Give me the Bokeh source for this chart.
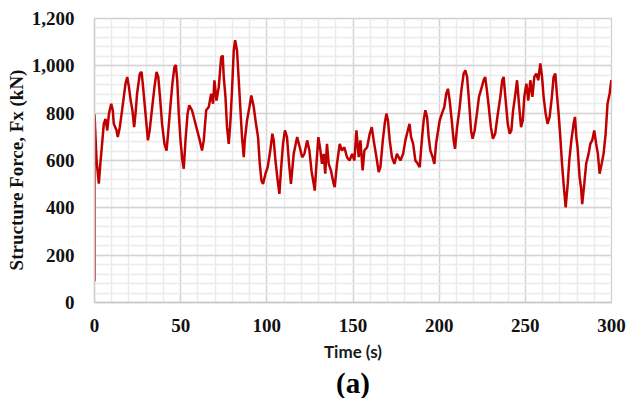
from bokeh.plotting import figure
from bokeh.models import (Range1d, SingleIntervalTicker, NumeralTickFormatter,
                          Title, ColumnDataSource)
from bokeh.embed import file_html
from bokeh.resources import INLINE

# ---- data (time in s, structure force Fx in kN) ----
time_s = [0, 0, 1.2, 2.5, 3.4, 4.4, 5.4, 6.4, 7.4, 8.4, 9.7, 10.6, 11.2, 12.8,
          13.5, 14.7, 16, 17, 18, 19, 20, 21, 22, 23, 23.8, 24.7, 26.3, 27.3,
          28.2, 29.6, 31, 32, 33.5, 34.8, 36, 37, 38, 39.2, 40.6, 41.8, 42.7,
          44, 45.2, 46.4, 47.2, 48, 48.9, 49.9, 51, 51.8, 52.8, 54, 55,
          56.6, 57.6, 59.6, 61.1, 62.4, 63.4, 64.8, 66.3, 67.7, 68.8, 69.6,
          70.8, 72.1, 73.5, 74.4, 75, 76, 76.9, 77.9, 78.9, 79.8, 80.8, 81.6,
          82.7, 83.7, 84.7, 85.6, 86.6, 87.2, 88.5, 89.9, 91, 92.4, 93.7, 94.9,
          95.9, 96.9, 97.8, 99.2, 100.5, 102, 103.2, 104, 105, 106.3, 107.3,
          108.2, 109.4, 110.5, 111.7, 112.9, 114, 115.6, 117.6, 119.1, 120.5,
          121.8, 123.4, 124.7, 125.9, 127.2, 127.8, 128.8, 129.9, 131.1, 132,
          133, 133.9, 134.9, 135.9, 137.2, 138.8, 139.4, 140.7, 142.3, 143.6,
          145, 146.5, 148, 149.5, 150.8, 152, 153.3, 154.3, 155.6, 156.6,
          158.2, 159.7, 160.9, 162, 163.6, 164.9, 165.9, 167.3, 168.4, 169.4,
          170.3, 171.3, 172.6, 174, 175.5, 177.5, 179.1, 180.4, 181.8, 182.8,
          183.7, 184.9, 186.2, 187.6, 188.7, 190.1, 191, 192, 193, 193.9,
          194.9, 196.2, 197.2, 198.2, 199.1, 200.3, 201.6, 203, 204.1, 205.1,
          206.1, 207.3, 208.4, 209.2, 210.4, 211.7, 212.9, 214.2, 215.2, 216.2,
          217.3, 218.5, 219.4, 220.6, 221.9, 223.1, 224.2, 225.8, 226.7, 227.7,
          228.8, 230, 231.2, 232.5, 233.9, 235.5, 236.6, 237.4, 238.4, 239.8,
          240.9, 241.9, 242.9, 244, 245.2, 246.3, 247.5, 248.5, 249.4, 250.6,
          251.7, 252.9, 254.1, 255.2, 256.4, 257.5, 258.7, 259.7, 260.6, 261.8,
          262.9, 264.1, 265.4, 266.4, 267.4, 268.3, 269.3, 270.3, 271.3, 272.2,
          273.4, 274.6, 275.5, 276.7, 278, 278.8, 279.6, 280.3, 281.5, 282.3,
          283, 284.2, 285.3, 286.7, 287.7, 288.8, 290, 291.1, 292.1, 293.1,
          294.3, 295.4, 296.6, 297.7, 298.9, 299.9]

force_kn = [90, 795, 600, 502, 587, 670, 755, 776, 727, 798, 840, 812, 755, 727,
            699, 741, 812, 869, 925, 953, 910, 853, 812, 741, 798, 882, 967, 974,
            910, 798, 685, 727, 826, 910, 974, 953, 869, 755, 670, 642, 713,
            826, 925, 996, 1003, 939, 798, 685, 600, 565, 685, 798, 833,
            812, 784, 727, 685, 642, 685, 812, 826, 882, 840, 939,
            853, 910, 1036, 1043, 953, 869, 741, 670, 769, 896, 1065, 1108,
            1065, 939, 812, 699, 614, 685, 769, 826, 875, 826, 755, 699,
            586, 515, 501, 544, 572, 642, 713, 685, 600, 515, 459,
            558, 670, 727, 699, 586, 501, 628, 699, 656, 614,
            628, 685, 642, 558, 501, 473, 586, 699, 642, 586,
            628, 544, 670, 586, 558, 501, 487, 586, 670, 642,
            656, 614, 600, 628, 600, 727, 614, 685, 558, 642,
            656, 713, 741, 685, 614, 551, 572, 685, 755, 798,
            769, 685, 614, 586, 628, 600, 628, 685, 727, 755,
            699, 670, 600, 586, 572, 699, 769, 812, 784, 699,
            642, 614, 586, 670, 713, 769, 798, 826, 882, 903,
            853, 769, 685, 649, 741, 812, 896, 967, 981, 953,
            853, 727, 692, 727, 798, 869, 896, 939, 953, 896,
            826, 741, 692, 713, 790, 869, 939, 953, 869, 755,
            713, 727, 812, 869, 939, 840, 741, 769, 869, 925,
            853, 939, 869, 953, 967, 939, 1010, 953, 869, 798,
            755, 784, 869, 953, 967, 882, 798, 699, 586, 501,
            402, 501, 600, 685, 755, 784, 699, 656, 529, 487,
            416, 501, 586, 628, 670, 685, 727, 670, 628, 544,
            586, 628, 713, 840, 882, 939]

x_ticks_interval = 50
y_ticks_interval = 200

x_label = "Time (s)"
y_label = "Structure Force, Fx (kN)\u00a0\u00a0\u00a0\u00a0"
panel_tag = "(a)"

src = ColumnDataSource(data=dict(t=time_s, fx=force_kn))

p = figure(width=626, height=398, output_backend="svg", toolbar_location=None,
           x_range=Range1d(0, 300), y_range=Range1d(0, 1200),
           min_border_left=94, min_border_right=15, min_border_top=18,
           min_border_bottom=96, background_fill_color="white",
           border_fill_color="white")

p.line("t", "fx", source=src, line_color="#c00000", line_width=2.5)

# axes
p.xaxis.ticker = SingleIntervalTicker(interval=x_ticks_interval, num_minor_ticks=5)
p.yaxis.ticker = SingleIntervalTicker(interval=y_ticks_interval, num_minor_ticks=5)
p.yaxis.formatter = NumeralTickFormatter(format="0,0")

for ax in (p.xaxis[0], p.yaxis[0]):
    ax.major_label_text_font = "Liberation Serif"
    ax.major_label_text_font_style = "bold"
    ax.major_label_text_font_size = "19px"
    ax.major_label_text_color = "#111111"
    ax.major_tick_line_color = None
    ax.minor_tick_line_color = None
p.xaxis.major_label_standoff = 10
p.yaxis.major_label_standoff = 14
p.xaxis.axis_line_color = "#c8c8c8"
p.xaxis.axis_line_width = 1.5
p.yaxis.axis_line_color = "#d0d0d0"
p.yaxis.axis_line_width = 1.5

p.xaxis.axis_label = x_label
p.xaxis.axis_label_text_font = "Lato"
p.xaxis.axis_label_text_font_style = "bold"
p.xaxis.axis_label_text_font_size = "17px"
p.xaxis.axis_label_text_color = "#1a1a1a"
p.xaxis.axis_label_standoff = 6

p.yaxis.axis_label = y_label
p.yaxis.axis_label_text_font = "Liberation Serif"
p.yaxis.axis_label_text_font_style = "bold"
p.yaxis.axis_label_text_font_size = "19px"
p.yaxis.axis_label_text_color = "#111111"
p.yaxis.axis_label_standoff = 2

# grid
p.xgrid.grid_line_color = "#d4d4d4"
p.ygrid.grid_line_color = "#d4d4d4"
p.xgrid.grid_line_width = 1.3
p.ygrid.grid_line_width = 1.3
p.xgrid.minor_grid_line_color = "#ebebeb"
p.ygrid.minor_grid_line_color = "#ebebeb"
p.xgrid.minor_grid_line_width = 1.5
p.ygrid.minor_grid_line_width = 1.5
p.outline_line_color = "#d0d0d0"
p.outline_line_width = 1.3

# panel tag below the axis title
tag = Title(text=panel_tag, align="center", text_font="Liberation Serif",
            text_font_style="bold", text_font_size="29px",
            text_color="#000000", standoff=0, offset=0)
p.add_layout(tag, "below")

open("out.html", "w").write(file_html(p, INLINE))
